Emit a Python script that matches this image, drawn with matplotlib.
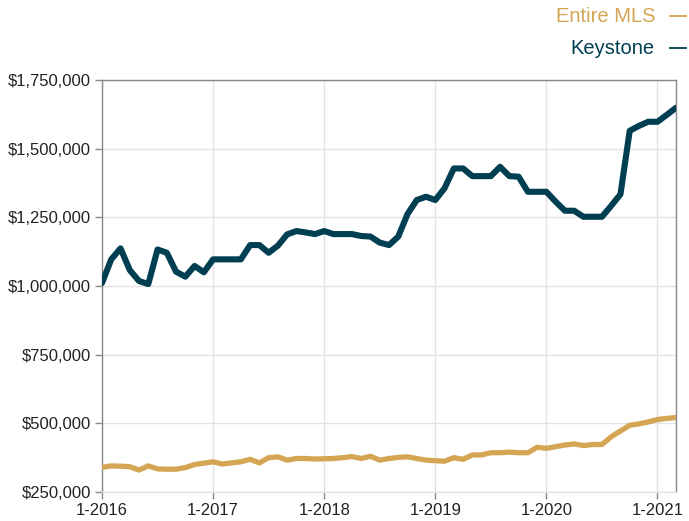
import numpy as np
import matplotlib
matplotlib.use("Agg")
import matplotlib.pyplot as plt
from matplotlib.ticker import FuncFormatter

plt.rcParams['font.family'] = ['Liberation Sans', 'DejaVu Sans']

# monthly median price, Jan 2016 - Mar 2021
keystone = [1011000, 1097000, 1137000, 1058000, 1018000, 1007000, 1133000, 1121000,
            1052000, 1034000, 1073000, 1050000, 1097000, 1097000, 1097000, 1097000,
            1149000, 1149000, 1121000, 1147000, 1188000, 1200000, 1195000, 1189000,
            1200000, 1189000, 1189000, 1189000, 1182000, 1180000, 1158000, 1149000,
            1180000, 1262000, 1313000, 1325000, 1313000, 1356000, 1428000, 1428000,
            1400000, 1400000, 1400000, 1434000, 1400000, 1398000, 1343000, 1343000,
            1343000, 1307000, 1274000, 1274000, 1252000, 1252000, 1252000, 1292000,
            1334000, 1565000, 1583000, 1598000, 1598000, 1623000, 1649000]

entire_mls = [340000, 345000, 344000, 342000, 330000, 345000, 334000, 333000,
              333000, 339000, 350000, 355000, 360000, 352000, 356000, 360000,
              369000, 356000, 375000, 378000, 366000, 372000, 372000, 370000,
              371000, 372000, 375000, 379000, 372000, 380000, 366000, 372000,
              376000, 378000, 372000, 366000, 364000, 362000, 375000, 369000,
              385000, 385000, 393000, 393000, 395000, 393000, 393000, 413000,
              409000, 415000, 421000, 425000, 419000, 423000, 423000, 451000,
              472000, 493000, 498000, 505000, 514000, 518000, 521000]

tick_labels = ["1-2016", "1-2017", "1-2018", "1-2019", "1-2020", "1-2021"]

teal = "#003f52"
gold = "#d4a553"

months = np.arange(len(keystone))

fig = plt.figure(figsize=(6.89, 5.21), dpi=100)
ax = fig.add_axes([102 / 689, 29 / 521, 574 / 689, 412 / 521])

ax.plot(months, entire_mls, color=gold, lw=3.8, solid_capstyle='round', zorder=3)
ax.plot(months, keystone, color=teal, lw=4.4, solid_capstyle='round', zorder=3)

ax.set_xlim(0, 62)
ax.set_ylim(250000, 1750000)
ax.set_xticks(np.arange(0, 61, 12))
ax.set_xticklabels(tick_labels)
ax.set_yticks(np.arange(250000, 1750001, 250000))
ax.yaxis.set_major_formatter(FuncFormatter(lambda v, p: "${:,.0f}".format(v)))

ax.grid(True, color="#e2e2e2", lw=1.0)
ax.set_axisbelow(True)
for s in ax.spines.values():
    s.set_color("#888888")
    s.set_linewidth(1.0)
ax.spines['bottom'].set_color("#e2e2e2")
ax.tick_params(axis='both', labelsize=12, colors="#888888", labelcolor="#222222",
               length=5, width=1.0, pad=3)

# legend drawn as text + dash at top right
fig.text(655 / 689, 1 - 16 / 521, "Entire MLS", color=gold, fontsize=14.5,
         ha='right', va='center')
fig.text(655 / 689, 1 - 48 / 521, "Keystone", color=teal, fontsize=14.5,
         ha='right', va='center')
fig.add_artist(plt.Line2D([670 / 689, 686 / 689], [1 - 16 / 521] * 2, color=gold, lw=1.3))
fig.add_artist(plt.Line2D([670 / 689, 686 / 689], [1 - 48 / 521] * 2, color=teal, lw=1.3))

fig.savefig("out.png", dpi=100)
